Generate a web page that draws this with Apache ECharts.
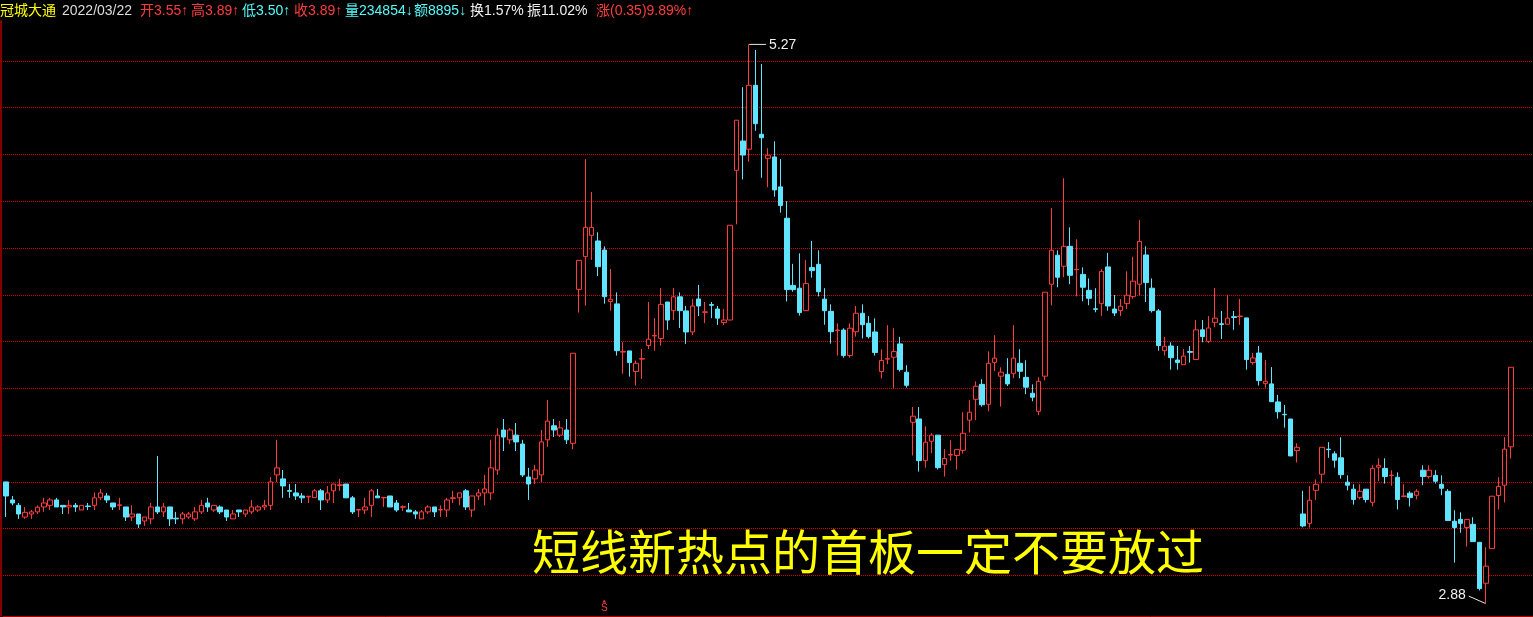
<!DOCTYPE html>
<html><head><meta charset="utf-8">
<script src="https://cdn.jsdelivr.net/npm/echarts@6/dist/echarts.min.js"></script>
<style>html,body{margin:0;padding:0;background:#000;}#c{width:1533px;height:617px;}</style>
</head><body><div id="c"></div>
<script>
const stockName = '冠城大通';
const lastDate = '2022/03/22';
const volumeText = '234854';
const amountText = '8895';
const turnoverText = '1.57%';
const amplitudeText = '11.02%';
const changeText = '(0.35)9.89%';
const headline = '短线新热点的首板一定不要放过';
const signalIndex = 95;
const gridLevels = [3.0, 3.2, 3.4, 3.6, 3.8, 4.0, 4.2, 4.4, 4.6, 4.8, 5.0, 5.2];

const opens = [
3.40,3.323,3.30,3.25,3.263,3.272,3.293,3.30,3.323,3.30,
3.293,3.30,3.28,3.297,3.30,3.332,3.34,3.31,3.30,3.293,
3.25,3.263,3.233,3.242,3.293,3.272,3.293,3.245,3.242,3.25,
3.242,3.272,3.31,3.28,3.293,3.28,3.242,3.28,3.263,3.272,
3.28,3.293,3.30,3.43,3.413,3.363,3.353,3.34,3.336,3.333,
3.362,3.323,3.362,3.385,3.391,3.332,3.28,3.28,3.30,3.34,
3.332,3.34,3.31,3.292,3.28,3.272,3.242,3.272,3.293,3.28,
3.28,3.33,3.332,3.362,3.28,3.34,3.353,3.353,3.451,3.622,
3.58,3.60,3.562,3.421,3.413,3.43,3.58,3.64,3.60,3.622,
3.565,4.223,4.363,4.454,4.43,4.391,4.171,4.161,3.955,3.96,
3.872,3.925,3.983,4.024,4.013,4.169,4.132,4.191,4.131,4.041,
4.182,4.125,4.158,4.139,4.081,4.092,4.732,4.857,4.822,5.095,
4.886,4.783,4.789,4.661,4.527,4.24,4.228,4.132,4.316,4.33,
4.181,4.129,4.047,4.049,3.94,4.042,4.121,4.078,4.041,3.872,
3.925,3.933,3.99,3.869,3.655,3.669,3.491,3.574,3.60,3.474,
3.515,3.513,3.535,3.664,3.753,3.817,3.732,3.911,3.852,3.86,
3.864,3.907,3.847,3.779,3.702,3.852,4.245,4.369,4.322,4.407,
4.307,4.287,4.219,4.14,4.162,4.319,4.139,4.132,4.162,4.193,
4.245,4.37,4.228,4.131,3.961,3.981,3.921,3.901,3.957,3.923,
4.05,4.001,4.082,4.076,4.074,4.106,4.107,4.101,3.91,3.951,
3.82,3.819,3.742,3.689,3.669,3.534,3.263,3.223,3.364,3.433,
3.54,3.52,3.503,3.399,3.369,3.334,3.369,3.313,3.463,3.458,
3.427,3.42,3.338,3.352,3.343,3.45,3.423,3.428,3.39,3.36,
3.232,3.24,3.205,3.219,3.142,2.967,3.115,3.342,3.386,3.55];

const closes = [
3.34,3.31,3.263,3.27,3.272,3.292,3.31,3.323,3.293,3.293,
3.30,3.293,3.30,3.295,3.332,3.353,3.323,3.293,3.302,3.25,
3.263,3.22,3.25,3.293,3.272,3.293,3.242,3.242,3.263,3.263,
3.272,3.30,3.293,3.30,3.272,3.25,3.263,3.272,3.28,3.293,
3.293,3.30,3.40,3.46,3.383,3.36,3.34,3.332,3.339,3.362,
3.323,3.353,3.391,3.388,3.332,3.272,3.282,3.293,3.362,3.332,
3.334,3.293,3.28,3.294,3.272,3.263,3.272,3.293,3.272,3.282,
3.323,3.332,3.353,3.293,3.34,3.353,3.37,3.46,3.60,3.592,
3.622,3.571,3.43,3.391,3.451,3.571,3.66,3.622,3.631,3.58,
3.95,4.347,4.488,4.488,4.32,4.192,4.181,3.961,3.957,3.91,
3.907,3.927,4.01,4.026,4.159,4.092,4.191,4.132,4.041,4.152,
4.152,4.127,4.155,4.10,4.092,4.497,4.946,4.797,5.095,4.931,
4.871,4.796,4.648,4.581,4.222,4.222,4.124,4.248,4.303,4.213,
4.132,4.042,4.049,3.94,4.057,4.121,4.072,4.021,3.953,3.919,
3.927,3.957,3.88,3.813,3.681,3.491,3.57,3.60,3.461,3.50,
3.517,3.538,3.608,3.698,3.809,3.73,3.907,3.929,3.869,3.819,
3.929,3.873,3.805,3.762,3.83,4.211,4.39,4.275,4.407,4.283,
4.309,4.232,4.185,4.138,4.30,4.152,4.122,4.151,4.198,4.258,
4.428,4.252,4.132,3.983,3.98,3.931,3.91,3.938,3.954,4.05,
4.021,4.058,4.10,4.073,4.10,4.103,4.109,3.923,3.93,3.833,
3.83,3.743,3.70,3.687,3.511,3.548,3.212,3.322,3.39,3.548,
3.538,3.493,3.431,3.386,3.325,3.36,3.325,3.458,3.471,3.423,
3.429,3.325,3.34,3.333,3.36,3.423,3.45,3.403,3.373,3.235,
3.205,3.223,3.24,3.145,2.944,3.04,3.339,3.381,3.54,3.89];

const lows = [
3.25,3.30,3.242,3.242,3.242,3.263,3.272,3.28,3.293,3.263,
3.263,3.272,3.28,3.28,3.28,3.323,3.31,3.28,3.28,3.233,
3.233,3.203,3.212,3.22,3.263,3.25,3.212,3.22,3.22,3.242,
3.233,3.263,3.272,3.272,3.263,3.233,3.242,3.25,3.25,3.263,
3.272,3.28,3.28,3.40,3.332,3.332,3.323,3.31,3.31,3.333,
3.28,3.31,3.31,3.362,3.332,3.263,3.25,3.263,3.25,3.332,
3.293,3.293,3.272,3.276,3.272,3.242,3.242,3.263,3.25,3.25,
3.25,3.31,3.30,3.28,3.25,3.323,3.30,3.323,3.43,3.532,
3.562,3.532,3.421,3.323,3.391,3.40,3.55,3.592,3.592,3.562,
3.54,4.124,4.153,4.349,4.28,4.162,4.132,3.94,3.862,3.85,
3.812,3.84,3.968,3.961,3.983,4.05,4.092,4.058,3.99,4.028,
4.109,4.079,4.10,4.071,4.071,4.092,4.501,4.693,4.769,4.901,
4.70,4.66,4.619,4.551,4.171,4.213,4.111,4.132,4.273,4.193,
4.072,3.991,3.94,3.931,3.931,4.021,4.013,4.013,3.94,3.842,
3.903,3.80,3.872,3.803,3.513,3.444,3.461,3.523,3.453,3.423,
3.491,3.453,3.521,3.611,3.664,3.722,3.702,3.873,3.722,3.81,
3.843,3.843,3.775,3.745,3.685,3.834,4.155,4.232,4.275,4.245,
4.193,4.172,4.155,4.125,4.109,4.132,4.109,4.109,4.139,4.183,
4.198,4.169,4.124,3.961,3.94,3.88,3.88,3.901,3.91,3.923,
3.997,3.993,4.061,4.011,4.074,4.05,4.071,3.88,3.901,3.812,
3.803,3.743,3.671,3.632,3.511,3.483,3.206,3.205,3.323,3.394,
3.503,3.461,3.414,3.364,3.303,3.325,3.312,3.295,3.403,3.393,
3.384,3.282,3.334,3.295,3.325,3.386,3.414,3.393,3.343,3.235,
3.055,3.183,3.124,3.145,2.936,2.88,3.115,3.282,3.312,3.50];

const highs = [
3.40,3.34,3.31,3.292,3.28,3.30,3.332,3.332,3.332,3.30,
3.323,3.31,3.30,3.31,3.355,3.37,3.353,3.31,3.332,3.293,
3.30,3.263,3.25,3.31,3.511,3.31,3.293,3.272,3.272,3.272,
3.293,3.323,3.332,3.30,3.30,3.28,3.28,3.28,3.28,3.323,
3.30,3.323,3.421,3.58,3.451,3.391,3.391,3.353,3.339,3.37,
3.37,3.383,3.391,3.413,3.391,3.34,3.282,3.332,3.37,3.37,
3.334,3.34,3.323,3.30,3.31,3.28,3.28,3.30,3.293,3.30,
3.332,3.362,3.353,3.37,3.34,3.37,3.43,3.58,3.63,3.669,
3.63,3.652,3.58,3.46,3.473,3.622,3.75,3.669,3.66,3.669,
3.95,4.347,4.78,4.639,4.467,4.407,4.31,4.21,3.997,3.96,
3.919,3.968,4.169,4.10,4.229,4.169,4.229,4.21,4.152,4.182,
4.242,4.169,4.169,4.152,4.139,4.497,4.946,5.087,5.27,5.246,
5.186,4.826,4.856,4.78,4.60,4.332,4.377,4.349,4.43,4.39,
4.228,4.159,4.078,4.057,4.078,4.152,4.159,4.109,4.099,3.967,
4.07,4.057,4.02,3.899,3.72,3.72,3.638,3.608,3.60,3.54,
3.578,3.538,3.698,3.749,3.83,3.839,3.958,4.027,3.89,3.929,
4.07,3.967,3.92,3.817,3.847,4.211,4.57,4.39,4.698,4.488,
4.437,4.317,4.27,4.228,4.309,4.379,4.199,4.182,4.30,4.362,
4.52,4.407,4.27,4.139,4.02,3.997,3.981,3.968,3.981,4.092,
4.092,4.109,4.229,4.131,4.20,4.131,4.182,4.101,3.951,3.981,
3.921,3.891,3.772,3.729,3.669,3.565,3.362,3.383,3.411,3.548,
3.57,3.531,3.591,3.428,3.39,3.39,3.369,3.471,3.501,3.501,
3.45,3.441,3.39,3.36,3.369,3.471,3.471,3.45,3.428,3.369,
3.279,3.27,3.24,3.249,3.142,3.121,3.339,3.42,3.591,3.89];

const categories = opens.map((_, i) => 'd' + (i + 1)).concat(['pad1', 'pad2', 'pad3']);

const UP = '#ff3c3c', DOWN = '#60e4ff', GRIDC = '#d80000', AXISC = '#b00000';
const FONT = '14px "Liberation Sans", "Noto Sans CJK SC", sans-serif';

const candleData = opens.map((o, i) => [o, closes[i], lows[i], highs[i]]);

const chart = echarts.init(document.getElementById('c'), null, {renderer: 'canvas'});
chart.setOption({
  backgroundColor: '#000',
  animation: false,
  grid: {left: 3, right: 0, top: 21, bottom: 1},
  xAxis: {
    type: 'category', data: categories, boundaryGap: true,
    axisLine: {show: true, onZero: false, lineStyle: {color: AXISC, width: 1}},
    axisTick: {show: false}, axisLabel: {show: false}, splitLine: {show: false}
  },
  yAxis: {
    type: 'value', min: 2.827, max: 5.37, offset: 2.5,
    axisLine: {show: true, lineStyle: {color: AXISC, width: 1.5}},
    axisTick: {show: false, customValues: gridLevels},
    axisLabel: {show: false, customValues: gridLevels},
    splitLine: {show: true, showMinLine: true, showMaxLine: true,
      lineStyle: {color: GRIDC, type: [1, 1], width: 1}}
  },
  series: [{
    type: 'candlestick',
    data: candleData,
    barWidth: 5,
    itemStyle: {color: '#000', color0: DOWN, borderColor: UP, borderColor0: DOWN, borderWidth: 1}
  }]
});

const n = opens.length;
let hi = 0, lo = 0;
for (let i = 1; i < n; i++) { if (highs[i] > highs[hi]) hi = i; if (lows[i] < lows[lo]) lo = i; }
const pHi = chart.convertToPixel({gridIndex: 0}, [hi, highs[hi]]);
const pLo = chart.convertToPixel({gridIndex: 0}, [lo, lows[lo]]);
const pSig = chart.convertToPixel({gridIndex: 0}, [signalIndex, lows[lo]]);

const header = [
  {x: 0, text: stockName, color: '#ffff00'},
  {x: 62, text: lastDate, color: '#dcdcdc'},
  {x: 140, text: '开' + opens[n - 1].toFixed(2) + '↑', color: UP},
  {x: 191, text: '高' + highs[n - 1].toFixed(2) + '↑', color: UP},
  {x: 242, text: '低' + lows[n - 1].toFixed(2) + '↑', color: '#54fcfc'},
  {x: 294, text: '收' + closes[n - 1].toFixed(2) + '↑', color: UP},
  {x: 345, text: '量' + volumeText + '↓', color: '#54fcfc'},
  {x: 414, text: '额' + amountText + '↓', color: '#54fcfc'},
  {x: 470, text: '换' + turnoverText, color: '#f0f0f0'},
  {x: 527, text: '振' + amplitudeText, color: '#f0f0f0'},
  {x: 596, text: '涨' + changeText + '↑', color: UP}
];

const graphics = header.map(h => ({
  type: 'text', x: h.x, y: 11, silent: true,
  style: {text: h.text, fill: h.color, font: FONT, textVerticalAlign: 'middle', textAlign: 'left'}
}));

graphics.push(
  {type: 'line', silent: true, shape: {x1: pHi[0], y1: pHi[1], x2: pHi[0] + 17, y2: pHi[1]}, style: {stroke: '#e6e6e6', lineWidth: 1}},
  {type: 'text', silent: true, x: pHi[0] + 20, y: pHi[1] + 1, style: {text: highs[hi].toFixed(2), fill: '#f0f0f0', font: FONT, textVerticalAlign: 'middle'}},
  {type: 'line', silent: true, shape: {x1: pLo[0], y1: pLo[1], x2: pLo[0] - 17, y2: pLo[1] - 7.5}, style: {stroke: '#e6e6e6', lineWidth: 1}},
  {type: 'text', silent: true, x: pLo[0] - 20, y: pLo[1] - 8, style: {text: lows[lo].toFixed(2), fill: '#f0f0f0', font: FONT, textVerticalAlign: 'middle', textAlign: 'right'}},
  {type: 'polygon', silent: true, shape: {points: [[pSig[0] - 1.8, pSig[1] - 1], [pSig[0] + 1.8, pSig[1] - 1], [pSig[0], pSig[1] - 4]]}, style: {fill: UP}},
  {type: 'text', silent: true, x: pSig[0], y: pSig[1] + 4.5, style: {text: 'S', fill: UP, font: '10px "Liberation Sans", sans-serif', textAlign: 'center', textVerticalAlign: 'middle'}},
  {type: 'text', silent: true, x: 868, y: 552, style: {text: headline, fill: '#ffff00', font: '48px "Noto Sans CJK SC", sans-serif', textAlign: 'center', textVerticalAlign: 'middle'}}
);

chart.setOption({graphic: graphics});
</script>
</body></html>
